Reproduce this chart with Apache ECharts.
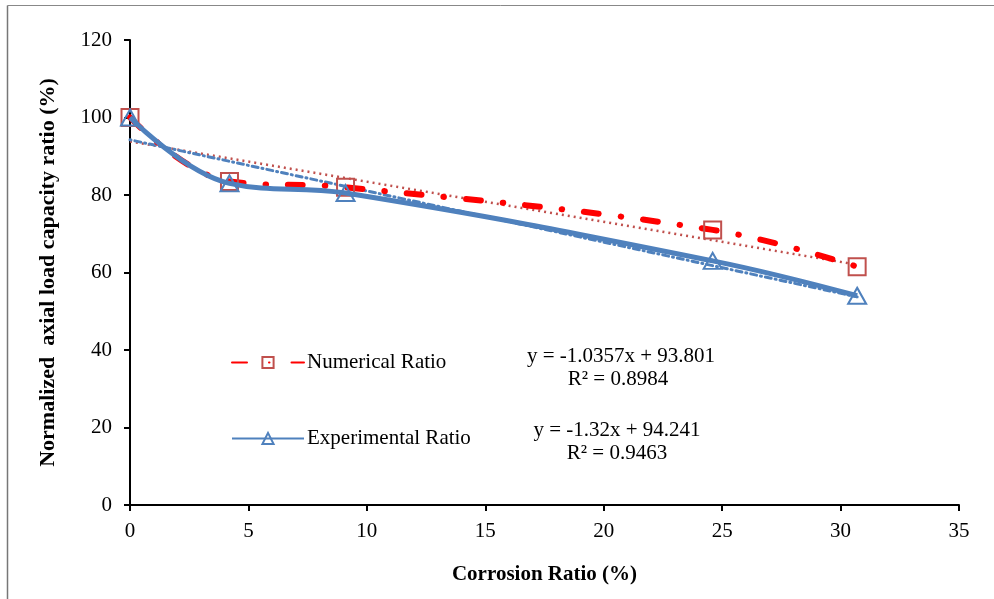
<!DOCTYPE html>
<html>
<head>
<meta charset="utf-8">
<script src="https://cdn.jsdelivr.net/npm/echarts@6/dist/echarts.min.js"></script>
<style>
  html, body { margin: 0; padding: 0; background: #fff; }
  #chart { width: 994px; height: 599px; }
</style>
</head>
<body>
<div id="chart"></div>
<script>
// Corrosion ratio (%) for each tested specimen
const corrosion = [0, 4.2, 9.1, 24.6, 30.7];
// Normalized axial load capacity ratio (%)
const numericalRatio = [100, 83.5, 82, 71, 61.5];
const experimentalRatio = [100, 83, 80.5, 63, 54];
// Linear trendline fits: [slope, intercept, R²]
const numericalFit = [-1.0357, 93.801, 0.8984];
const experimentalFit = [-1.32, 94.241, 0.9463];
const xTicks = [0, 5, 10, 15, 20, 25, 30, 35];
const yTicks = [0, 20, 40, 60, 80, 100, 120];

const FONT = '"Liberation Serif", "Times New Roman", serif';
const FS = 21;

function pairs(xs, ys) { return xs.map((x, i) => [x, ys[i]]); }
function fitLine(fit) {
  const x0 = corrosion[0], x1 = corrosion[corrosion.length - 1];
  return [[x0, fit[0] * x0 + fit[1]], [x1, fit[0] * x1 + fit[1]]];
}
function eqText(fit) {
  const sign = fit[1] >= 0 ? '+' : '-';
  return 'y = ' + fit[0] + 'x ' + sign + ' ' + Math.abs(fit[1]);
}

const chart = echarts.init(document.getElementById('chart'), null, { renderer: 'canvas' });

chart.setOption({
  animation: false,
  backgroundColor: '#fff',
  grid: { left: 130, right: 35, top: 40, bottom: 94, containLabel: false },
  xAxis: {
    type: 'value', min: xTicks[0], max: xTicks[xTicks.length - 1], interval: 5,
    name: 'Corrosion Ratio (%)', nameLocation: 'middle', nameGap: 59,
    nameTextStyle: { fontFamily: FONT, fontSize: FS, fontWeight: 'bold', color: '#000' },
    axisLine: { lineStyle: { color: '#000', width: 2 } },
    axisTick: { show: true, length: 6, lineStyle: { color: '#000', width: 2 } },
    axisLabel: { fontFamily: FONT, fontSize: FS, color: '#000', margin: 16 },
    splitLine: { show: false }
  },
  yAxis: {
    type: 'value', min: yTicks[0], max: yTicks[yTicks.length - 1], interval: 20,
    name: 'Normalized  axial load capacity ratio (%)', nameLocation: 'middle', nameGap: 71,
    nameRotate: 90,
    nameTextStyle: { fontFamily: FONT, fontSize: 22, fontWeight: 'bold', color: '#000' },
    axisLine: { show: true, lineStyle: { color: '#000', width: 2 } },
    axisTick: { show: true, length: 6, lineStyle: { color: '#000', width: 2 } },
    axisLabel: { fontFamily: FONT, fontSize: FS, color: '#000', margin: 18 },
    splitLine: { show: false }
  },
  legend: {
    orient: 'vertical', left: 226, top: 347, itemGap: 55,
    itemWidth: 72, itemHeight: 14,
    textStyle: { fontFamily: FONT, fontSize: FS, color: '#000', padding: [0, 0, 0, -2] },
    data: ['Numerical Ratio', 'Experimental Ratio']
  },
  series: [
    {
      name: 'Numerical trend', type: 'line', data: fitLine(numericalFit),
      symbol: 'none', silent: true, z: 1,
      lineStyle: { color: '#C0504D', width: 2.5, type: [2, 4], cap: 'butt' }
    },
    {
      name: 'Experimental trend', type: 'line', data: fitLine(experimentalFit),
      symbol: 'none', silent: true, z: 1,
      lineStyle: { color: '#4F81BD', width: 3, type: [1, 4, 6, 4], cap: 'round' }
    },
    {
      name: 'Numerical Ratio', type: 'line', data: pairs(corrosion, numericalRatio),
      smooth: 0.4, z: 2,
      symbol: 'rect', symbolSize: 17,
      lineStyle: { color: '#FF0000', width: 6, type: [15, 22, 0.5, 22], cap: 'round' },
      itemStyle: { color: 'rgba(255,255,255,0)', borderColor: '#C0504D', borderWidth: 2 }
    },
    {
      name: 'Experimental Ratio', type: 'line', data: pairs(corrosion, experimentalRatio),
      smooth: 0.4, z: 3,
      symbol: 'triangle', symbolSize: [18, 16],
      lineStyle: { color: '#4F81BD', width: 5 },
      itemStyle: { color: 'rgba(255,255,255,0)', borderColor: '#4F81BD', borderWidth: 2 }
    }
  ],
  graphic: [
    { type: 'line', shape: { x1: 7.5, y1: 5.5, x2: 994, y2: 5.5 }, style: { stroke: '#888', lineWidth: 1 } },
    { type: 'line', shape: { x1: 7.5, y1: 5.5, x2: 7.5, y2: 599 }, style: { stroke: '#777', lineWidth: 1.5 } },
    { type: 'text', x: 621, y: 356, style: { text: eqText(numericalFit), font: FS + 'px ' + FONT, fill: '#000', align: 'center', verticalAlign: 'middle' } },
    { type: 'text', x: 618, y: 379, style: { text: 'R² = ' + numericalFit[2], font: FS + 'px ' + FONT, fill: '#000', align: 'center', verticalAlign: 'middle' } },
    { type: 'text', x: 617, y: 430, style: { text: eqText(experimentalFit), font: FS + 'px ' + FONT, fill: '#000', align: 'center', verticalAlign: 'middle' } },
    { type: 'text', x: 617, y: 453, style: { text: 'R² = ' + experimentalFit[2], font: FS + 'px ' + FONT, fill: '#000', align: 'center', verticalAlign: 'middle' } }
  ]
});
</script>
</body>
</html>
